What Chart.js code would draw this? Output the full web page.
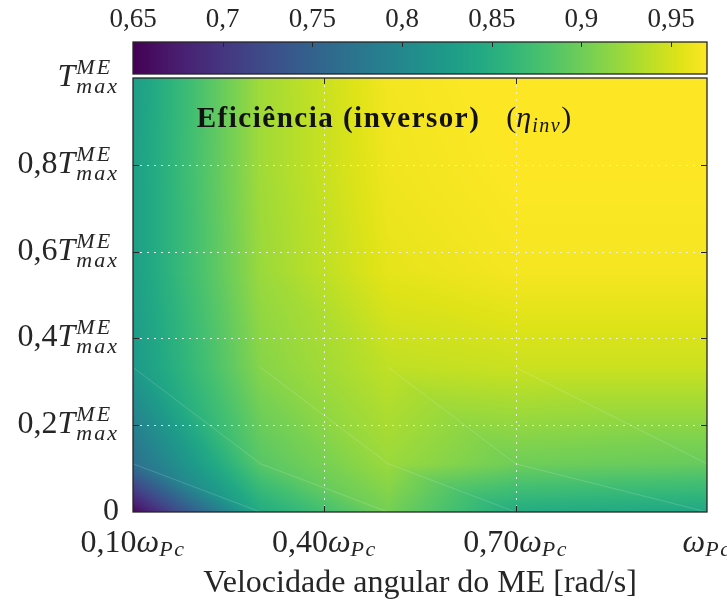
<!DOCTYPE html>
<html lang="pt">
<head>
<meta charset="utf-8">
<title>Eficiência do inversor</title>
<script src="https://cdn.jsdelivr.net/npm/chart.js@4.4.1/dist/chart.umd.min.js"></script>
<style>
  html, body { margin: 0; padding: 0; background: #ffffff; }
  #box { width: 727px; height: 603px; }
</style>
</head>
<body>
<div id="box"><canvas id="map" width="727" height="603"></canvas></div>
<script>
// Operating grid: motor speed (fraction of ωPc) and torque (fraction of T_max^ME)
const speedGrid  = [0.1, 0.3, 0.5, 0.7, 1.0];
const torqueGrid = [0, 1/9, 3/9, 5/9, 7/9, 1];

// Inverter efficiency at the grid nodes, one array per torque level (low -> high)
const effT0 = [0.655, 0.845, 0.903, 0.846, 0.840];
const effT1 = [0.767, 0.887, 0.922, 0.900, 0.895];
const effT2 = [0.822, 0.912, 0.940, 0.945, 0.945];
const effT3 = [0.830, 0.922, 0.958, 0.966, 0.966];
const effT4 = [0.830, 0.925, 0.963, 0.970, 0.970];
const effT5 = [0.828, 0.925, 0.965, 0.972, 0.972];
const effRows = [effT0, effT1, effT2, effT3, effT4, effT5];

// Axis ticks and their labels
const speedTicks = [0.1, 0.4, 0.7, 1.0];
const speedTickText = ['0,10', '0,40', '0,70', ''];
const torqueTicks = [0, 0.2, 0.4, 0.6, 0.8, 1.0];
const torqueTickText = ['0', '0,2', '0,4', '0,6', '0,8', ''];
const colorTicks = [0.65, 0.70, 0.75, 0.80, 0.85, 0.90, 0.95];
const colorMin = 0.65, colorMax = 0.97;

const SERIF = '"Liberation Serif", "DejaVu Serif", serif';
const INK = '#262626';

// viridis colour map, 21 evenly spaced stops
const VIRIDIS = ['#440154','#481467','#482576','#463480','#414487','#3b528b','#355f8d',
  '#2f6c8e','#2a788e','#25848e','#21908c','#1e9c89','#22a884','#2fb47c','#43bf71',
  '#5dc863','#7ad151','#9ad93c','#bbdf27','#dee318','#fde725']
  .map(h => [parseInt(h.slice(1, 3), 16), parseInt(h.slice(3, 5), 16), parseInt(h.slice(5, 7), 16)]);

function viridis(t) {
  t = Math.min(1, Math.max(0, t));
  const p = t * (VIRIDIS.length - 1);
  const k = Math.min(VIRIDIS.length - 2, Math.floor(p));
  const f = p - k, a = VIRIDIS[k], b = VIRIDIS[k + 1];
  return [a[0] + (b[0] - a[0]) * f, a[1] + (b[1] - a[1]) * f, a[2] + (b[2] - a[2]) * f];
}

function cellIndex(grid, v) {
  for (let i = 0; i < grid.length - 2; i++) if (v < grid[i + 1]) return i;
  return grid.length - 2;
}

// Linear interpolation on triangles (each cell split along its falling diagonal)
function effAt(s, t) {
  const i = cellIndex(speedGrid, s), j = cellIndex(torqueGrid, t);
  const u = (s - speedGrid[i]) / (speedGrid[i + 1] - speedGrid[i]);
  const w = (t - torqueGrid[j]) / (torqueGrid[j + 1] - torqueGrid[j]);
  const f00 = effRows[j][i], f10 = effRows[j][i + 1];
  const f01 = effRows[j + 1][i], f11 = effRows[j + 1][i + 1];
  if (u + w <= 1) return f00 + u * (f10 - f00) + w * (f01 - f00);
  return f11 + (1 - u) * (f01 - f11) + (1 - w) * (f10 - f11);
}

// Text made of several runs (roman / italic / sub- and superscripts)
function runWidth(ctx, r) {
  ctx.font = r.font;
  ctx.letterSpacing = (r.ls || 0) + 'px';
  let w = r.stack ? Math.max(ctx.measureText(r.sup).width, ctx.measureText(r.sub).width)
                  : ctx.measureText(r.t).width;
  ctx.letterSpacing = '0px';
  return w + (r.gap || 0);
}
function drawRuns(ctx, runs, x, y, align) {
  const total = runs.reduce((s, r) => s + runWidth(ctx, r), 0);
  let cx = align === 'right' ? x - total : align === 'center' ? x - total / 2 : x;
  ctx.textAlign = 'left';
  ctx.textBaseline = 'alphabetic';
  for (const r of runs) {
    const w = runWidth(ctx, r);
    ctx.font = r.font;
    ctx.letterSpacing = (r.ls || 0) + 'px';
    if (r.stack) {
      ctx.fillText(r.sup, cx, y + r.supDy);
      ctx.fillText(r.sub, cx, y + r.subDy);
    } else {
      ctx.fillText(r.t, cx, y + (r.dy || 0));
    }
    ctx.letterSpacing = '0px';
    cx += w;
  }
}

const nodes = [];
effRows.forEach((row, j) => row.forEach((v, i) => nodes.push({ x: speedGrid[i], y: torqueGrid[j], v })));

const heatmapPlugin = {
  id: 'heatmap',
  beforeDatasetsDraw(chart) {
    const { ctx, chartArea: a, scales: { x, y } } = chart;
    const L = Math.round(a.left), T = Math.round(a.top);
    const W = Math.round(a.right) - L, H = Math.round(a.bottom) - T;
    const off = document.createElement('canvas');
    off.width = W; off.height = H;
    const octx = off.getContext('2d');
    const img = octx.createImageData(W, H);
    for (let py = 0; py < H; py++) {
      const tv = y.getValueForPixel(T + py + 0.5);
      for (let px = 0; px < W; px++) {
        const sv = x.getValueForPixel(L + px + 0.5);
        const c = viridis((effAt(sv, tv) - colorMin) / (colorMax - colorMin));
        const o = (py * W + px) * 4;
        img.data[o] = c[0]; img.data[o + 1] = c[1]; img.data[o + 2] = c[2]; img.data[o + 3] = 255;
      }
    }
    octx.putImageData(img, 0, 0);
    ctx.drawImage(off, L, T);

    // faint shading seams along the triangle diagonals of the two lowest rows
    ctx.save();
    ctx.strokeStyle = 'rgba(255,255,255,0.2)';
    ctx.lineWidth = 0.8;
    for (let j = 0; j < 2; j++) {
      for (let i = 0; i < speedGrid.length - 1; i++) {
        ctx.beginPath();
        ctx.moveTo(x.getPixelForValue(speedGrid[i]), y.getPixelForValue(torqueGrid[j + 1]));
        ctx.lineTo(x.getPixelForValue(speedGrid[i + 1]), y.getPixelForValue(torqueGrid[j]));
        ctx.stroke();
      }
    }
    ctx.restore();

    // dotted grid
    ctx.save();
    ctx.strokeStyle = 'rgba(238,238,238,0.95)';
    ctx.lineWidth = 1;
    ctx.setLineDash([2, 5]);
    speedTicks.slice(1, -1).forEach(v => {
      const px = Math.round(x.getPixelForValue(v)) + 0.5;
      ctx.beginPath(); ctx.moveTo(px, a.top); ctx.lineTo(px, a.bottom); ctx.stroke();
    });
    torqueTicks.slice(1, -1).forEach(v => {
      const py = Math.round(y.getPixelForValue(v)) + 0.5;
      ctx.beginPath(); ctx.moveTo(a.left, py); ctx.lineTo(a.right, py); ctx.stroke();
    });
    ctx.restore();
  },
  afterDraw(chart) {
    const { ctx, chartArea: a, scales: { x, y, cb } } = chart;
    ctx.save();
    // frame and inward tick marks
    ctx.strokeStyle = INK;
    ctx.lineWidth = 1.3;
    ctx.strokeRect(a.left, a.top, a.right - a.left, a.bottom - a.top);
    ctx.lineWidth = 1;
    const tl = 6;
    speedTicks.slice(1, -1).forEach(v => {
      const px = Math.round(x.getPixelForValue(v)) + 0.5;
      ctx.beginPath();
      ctx.moveTo(px, a.bottom); ctx.lineTo(px, a.bottom - tl);
      ctx.moveTo(px, a.top); ctx.lineTo(px, a.top + tl);
      ctx.stroke();
    });
    torqueTicks.slice(1, -1).forEach(v => {
      const py = Math.round(y.getPixelForValue(v)) + 0.5;
      ctx.beginPath();
      ctx.moveTo(a.left, py); ctx.lineTo(a.left + tl, py);
      ctx.moveTo(a.right, py); ctx.lineTo(a.right - tl, py);
      ctx.stroke();
    });

    ctx.fillStyle = INK;
    // speed tick labels
    speedTicks.forEach((v, k) => {
      const runs = [];
      if (speedTickText[k]) runs.push({ t: speedTickText[k], font: '32px ' + SERIF });
      runs.push({ t: 'ω', font: 'italic 32px ' + SERIF });
      runs.push({ t: 'Pc', font: 'italic 22px ' + SERIF, dy: 4, ls: 1.5 });
      drawRuns(ctx, runs, x.getPixelForValue(v), a.bottom + 40, 'center');
    });
    // torque tick labels
    torqueTicks.forEach((v, k) => {
      const runs = [];
      if (torqueTickText[k]) runs.push({ t: torqueTickText[k], font: '32px ' + SERIF });
      if (v > 0) {
        runs.push({ t: 'T', font: 'italic 32px ' + SERIF, gap: 1 });
        runs.push({ stack: true, sup: 'ME', sub: 'max', font: 'italic 22px ' + SERIF,
                    supDy: -12, subDy: 7, ls: 2 });
      }
      drawRuns(ctx, runs, a.left - 14, y.getPixelForValue(v) + 8, 'right');
    });
    // axis title
    ctx.font = '32px ' + SERIF;
    ctx.textAlign = 'center';
    ctx.textBaseline = 'alphabetic';
    ctx.fillText('Velocidade angular do ME [rad/s]', (a.left + a.right) / 2, a.bottom + 80);

    // plot title inside the axes
    ctx.fillStyle = '#111111';
    drawRuns(ctx, [
      { t: 'Eficiência (inversor)', font: 'bold 29px ' + SERIF, ls: 1.5, gap: 26 },
      { t: '(', font: '30px ' + SERIF },
      { t: 'η', font: 'italic 30px ' + SERIF, gap: 1 },
      { t: 'inv', font: 'italic 20px ' + SERIF, dy: 5, ls: 1.5 },
      { t: ')', font: '30px ' + SERIF }
    ], x.getPixelForValue(0.2), y.getPixelForValue(0.9) + 6, 'left');

    // colour bar
    const barBottom = cb.bottom - 4, barTop = barBottom - 32;
    for (let px = Math.floor(cb.left); px < Math.ceil(cb.right); px++) {
      const c = viridis((cb.getValueForPixel(px + 0.5) - colorMin) / (colorMax - colorMin));
      ctx.fillStyle = `rgb(${c[0] | 0},${c[1] | 0},${c[2] | 0})`;
      ctx.fillRect(px, barTop, 1, barBottom - barTop);
    }
    ctx.strokeStyle = INK;
    ctx.lineWidth = 1.3;
    ctx.strokeRect(cb.left, barTop, cb.right - cb.left, barBottom - barTop);
    ctx.lineWidth = 1;
    colorTicks.slice(1).forEach(v => {
      const px = Math.round(cb.getPixelForValue(v)) + 0.5;
      ctx.beginPath(); ctx.moveTo(px, barTop); ctx.lineTo(px, barTop + 5); ctx.stroke();
    });
    ctx.restore();
  }
};

new Chart(document.getElementById('map'), {
  type: 'scatter',
  data: {
    datasets: [{ label: 'η_inv', data: nodes, pointRadius: 0, pointHoverRadius: 0, showLine: false }]
  },
  options: {
    responsive: false,
    animation: false,
    events: [],
    layout: { padding: { left: 133, right: 20, top: 0, bottom: 91 } },
    plugins: { legend: { display: false }, tooltip: { enabled: false } },
    scales: {
      x: { type: 'linear', min: speedGrid[0], max: speedGrid[speedGrid.length - 1], display: false },
      y: { type: 'linear', min: torqueGrid[0], max: torqueGrid[torqueGrid.length - 1], display: false },
      cb: {
        type: 'linear', axis: 'x', position: 'top', min: colorMin, max: colorMax,
        grid: { display: false }, border: { display: false },
        afterBuildTicks: s => { s.ticks = colorTicks.map(v => ({ value: v })); },
        afterFit: s => { s.height = 78; s.paddingLeft = 0; s.paddingRight = 0; },
        ticks: {
          padding: 34, autoSkip: false, maxRotation: 0, color: INK,
          font: { family: SERIF, size: 27 },
          callback: v => String(Math.round(v * 100) / 100).replace('.', ',')
        }
      }
    }
  },
  plugins: [heatmapPlugin]
});
</script>
</body>
</html>
